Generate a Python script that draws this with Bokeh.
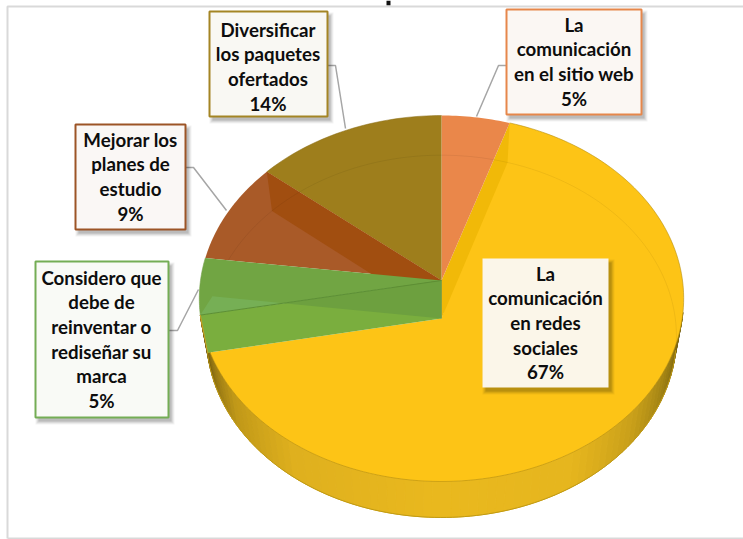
import numpy as np
from bokeh.plotting import figure
from bokeh.models import Range1d
from bokeh.core.properties import value
from bokeh.embed import file_html
from bokeh.resources import INLINE

# ---- data ----
categories = ["La\ncomunicación\nen el sitio web", "La\ncomunicación\nen redes\nsociales",
              "Considero que\ndebe de\nreinventar o\nrediseñar su\nmarca",
              "Mejorar los\nplanes de\nestudio", "Diversificar\nlos paquetes\nofertados"]
percent = [5, 67, 5, 9, 14]

# ---- styling / layout (image pixels) ----
face = ["#ea874a", "#fdc416", "#71a543", "#a95a28", "#9e7e1c"]
edge = ["#e6874b", None, "#74ad55", "#9c5426", "#a48524"]
boxes = [(506, 641, 9, 114, 573.5, 25), (482, 608, 258, 387, 545, 274),
         (35, 168, 261, 417, 101, 278), (75, 185, 124, 229, 130, 140), (209, 327, 11, 116, 267.5, 30)]
box_fill = ["#fbf7f3", "#fbf6e9", "#f9faf6", "#faf7f5", "#f9f8f3"]
leaders = [([506, 498, 476], [65, 65, 116]), ([168, 177, 198], [330, 330, 289]),
           ([185, 193, 226], [167, 167, 210]), ([327, 335, 345], [65, 65, 128])]
LINE_H = 24.6
TEXT_SHIFT = -0.8
FONT = value("Lato")

# perspective projection of the disc
CX, AY, LOW_AY = 441.0, 280.0, 318.0
A, B, K = 241.0, 181.2, 0.0984
SX, SY = 0.97, 0.99


def up(t):
    t = np.radians(t)
    d = 1 + K * np.cos(t)
    return CX + A * np.sin(t) / d, AY - B * np.cos(t) / d


def low(t):
    t = np.radians(t)
    d = 1 + K * np.cos(t)
    return CX + SX * A * np.sin(t) / d, LOW_AY - SY * B * np.cos(t) / d


def arc(fn, a, b, n=80):
    return fn(np.linspace(a, b, n))


edges = np.concatenate([[0], np.cumsum(percent) / sum(percent) * 360])
t_o, t_y, t_g, t_b = edges[1], edges[2], edges[3], edges[4]

p = figure(width=743, height=539, output_backend="svg", toolbar_location=None,
           x_range=Range1d(0, 743), y_range=Range1d(539, 0), min_border=0,
           outline_line_color=None, background_fill_color="white", border_fill_color="white")
p.styles = {"position": "absolute", "left": "0", "top": "0"}
p.xaxis.visible = False
p.yaxis.visible = False
p.grid.visible = False

# the only part of the cut-off chart title that shows, and the chart frame
p.quad(left=[386], right=[390], top=[0], bottom=[5], fill_color="#111111", line_color=None)
p.line([7, 7, 743], [538, 6, 6], line_color="#d9d9d9", line_width=2)
p.line([7, 743], [538, 538], line_color="#d9d9d9", line_width=2)


# outer wall with its shading
def wall_color(t):
    stops_t = [100, 108, 118, 132, 150, 180, 215, 235, 248, 259.2]
    stops = np.array([[0x5e, 0x4e, 0x10], [0x82, 0x6a, 0x10], [0xa4, 0x84, 0x14], [0xca, 0xa0, 0x1a], [0xe6, 0xb6, 0x1e],
                      [0xea, 0xb9, 0x1e], [0xdf, 0xb0, 0x1e], [0xc0, 0x98, 0x18], [0x92, 0x74, 0x12], [0x62, 0x50, 0x0c]])
    return "#%02x%02x%02x" % tuple(int(np.interp(t, stops_t, stops[:, i])) for i in range(3))


ws = np.arange(100, t_y, 2.0)
xs, ys, cs = [], [], []
for t0 in ws:
    t1 = min(t0 + 2.0, t_y)
    ux, uy = up(np.array([t0, t1]))
    lx, ly = low(np.array([t1, t0]))
    xs.append(list(ux) + list(lx))
    ys.append(list(uy) + list(ly))
    cs.append(wall_color((t0 + t1) / 2))
p.patches(xs, ys, fill_color=cs, line_color=cs, line_width=1)
lx, ly = arc(low, 100, t_y, 120)
p.line(lx, ly, line_color="#c09a14", line_width=1)

# yellow face
ux, uy = arc(up, t_o, t_y, 160)
lx0, ly0 = low(t_y)
lxa, lya = low(t_o)
p.patch(list(ux) + [lx0, CX], list(uy) + [ly0, LOW_AY], fill_color=face[1], line_color=None)
p.line(ux, uy, line_color="#b8900f", line_width=1, line_alpha=0.6)
# side of the yellow slice
p.patch([ux[0], lxa, CX, CX], [uy[0], lya, LOW_AY, AY], fill_color="#f1b908", line_color=None)

# orange slice
x, y = arc(up, 0, t_o, 20)
p.patch([CX] + list(x), [AY] + list(y), fill_color=face[0], line_color=None)
# olive slice
x, y = arc(up, t_b, 360, 40)
p.patch([CX] + list(x), [AY] + list(y), fill_color=face[4], line_color=None)
p.line(x, y, line_color="#8a6c14", line_width=1, line_alpha=0.5)
# brown slice
x, y = arc(up, t_g, t_b, 30)
p.patch([CX] + list(x), [AY] + list(y), fill_color=face[3], line_color=None)
ubx, uby = up(t_b)
lbx, lby = low(t_b)
p.patch([ubx, lbx, CX, CX], [uby, lby, LOW_AY, AY], fill_color="#a14e10", line_color=None)

# rim of the lower plane, seen through the slices
x, y = arc(low, -82.8, 100, 200)
p.line(x, y, line_color="#000000", line_alpha=0.06, line_width=1)

# green slice
gx, gy = up(t_y)
lgx, lgy = low(t_y)
p.patch([CX, gx, lgx, CX], [AY, gy, lgy, LOW_AY], fill_color="#7aae3e", line_color=None)
x, y = arc(up, t_y, t_g, 30)
p.patch([CX] + list(x), [AY] + list(y), fill_color=face[2], line_color=None)
# lower wedge seen through the green slice
l2x, l2y = low(t_g)
s = (l2y - gy - (AY - gy) / (CX - gx) * (l2x - gx)) / ((AY - gy) / (CX - gx) - (LOW_AY - l2y) / (CX - l2x))
ix, iy = l2x + s, l2y + s * (LOW_AY - l2y) / (CX - l2x)
p.patch([l2x, ix, gx], [l2y, iy, gy], fill_color="#76af55", line_color=None)
p.patch([ix, CX, CX], [iy, AY, LOW_AY], fill_color="#6da03f", line_color=None)
p.line([gx, CX], [gy, AY], line_color="#5c8f35", line_width=1)
x, y = arc(up, t_y - 1, t_g, 30)
p.line(x, y, line_color="#6f9f45", line_width=1, line_alpha=0.6)
p.line([gx, lgx], [gy, lgy], line_color="#c9a126", line_width=1)

# leader lines
for lxs, lys in leaders:
    p.line(lxs, lys, line_color="#a6a6a6", line_width=1.5)

# label boxes with soft shadows, then their texts
for i, (l, r, t, b, cx, first) in enumerate(boxes):
    for grow, alpha in ((3, 0.05), (2, 0.06), (1, 0.08), (0, 0.1)):
        p.quad(left=[l + 3 - grow], right=[r + 3 + grow], top=[t + 4 - grow], bottom=[b + 4 + grow],
               fill_color="#000000", fill_alpha=alpha, line_color=None)
    p.quad(left=[l], right=[r], top=[t], bottom=[b], fill_color=box_fill[i],
           line_color=edge[i], line_width=2)
    lines = categories[i].split("\n") + [f"{percent[i]}%"]
    p.text([cx] * len(lines), [first + TEXT_SHIFT + k * LINE_H for k in range(len(lines))], text=lines,
           text_font=FONT, text_font_style="bold", text_font_size="18.7px", text_align="center",
           text_baseline="middle", text_color="#0d0d0d")

open("out.html", "w").write(file_html(p, INLINE))
